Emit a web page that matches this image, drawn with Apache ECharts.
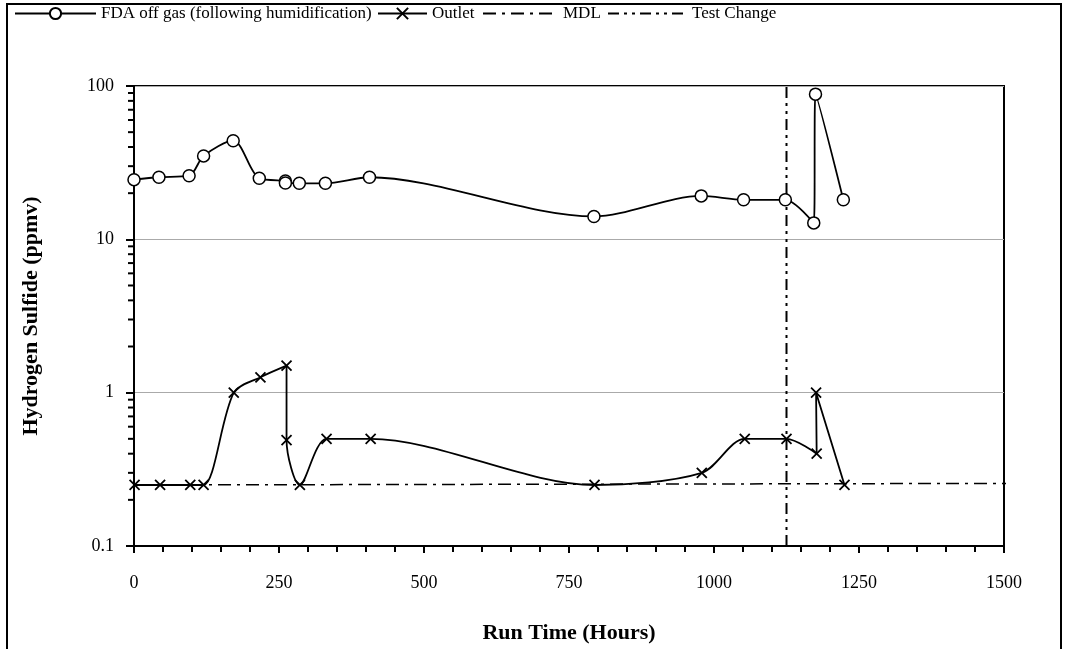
<!DOCTYPE html>
<html>
<head>
<meta charset="utf-8">
<script src="https://cdn.jsdelivr.net/npm/echarts@6/dist/echarts.min.js"></script>
<style>
  html, body { margin: 0; padding: 0; background: #fff; }
  #chart { width: 1068px; height: 649px; }
</style>
</head>
<body>
<div id="chart"></div>
<script>
// Run time (hours) and H2S concentration (ppmv)
const fdaHours   = [0, 43, 95, 120, 171, 216, 261, 261, 285, 330, 406, 793, 978, 1051, 1123, 1172, 1175, 1223];
const fdaValues  = [24.5, 25.4, 26, 35, 44, 25, 24, 23.3, 23.2, 23.2, 25.4, 14.1, 19.2, 18.1, 18.1, 12.8, 88.5, 18.1];
const outletHours  = [1, 45, 97, 120, 172, 218, 263, 263, 286, 332, 408, 794, 979, 1053, 1125, 1177, 1176, 1225];
const outletValues = [0.25, 0.25, 0.25, 0.25, 1.0, 1.26, 1.5, 0.49, 0.25, 0.5, 0.5, 0.25, 0.3, 0.5, 0.5, 0.4, 1.0, 0.25];
const mdlHours   = [0, 1515];
const mdlValues  = [0.25, 0.256];
const testChangeHours  = [1125, 1125];
const testChangeValues = [0.1, 100];
const xTicks = { min: 0, max: 1500, step: 250 };
const yTicks = { min: 0.1, max: 100 };
const yMinorTicks = [0.2, 0.3, 0.4, 0.5, 0.6, 0.7, 0.8, 0.9,
                     2, 3, 4, 5, 6, 7, 8, 9,
                     20, 30, 40, 50, 60, 70, 80, 90];

const NAMES = ['FDA off gas (following humidification)', 'Outlet', 'MDL', 'Test Change'];

const pair = (xs, ys) => xs.map((x, i) => [x, ys[i]]);
const FONT = '"Liberation Serif", "Times New Roman", serif';
const CROSS = 'path://M0,0L10,10M10,0L0,10';

// one legend block per entry so each sample line can have its own length
function legendBlock(name, left, width, hideSymbol) {
  return {
    top: 5, left: left, padding: 0,
    itemWidth: width, itemHeight: 14, itemGap: 0,
    data: [hideSymbol ? { name: name, itemStyle: { opacity: 0 } } : name],
    textStyle: { fontFamily: FONT, fontSize: 17, color: '#000' },
    selectedMode: false
  };
}

const chart = echarts.init(document.getElementById('chart'), null, { renderer: 'canvas' });

chart.setOption({
  backgroundColor: '#fff',
  animation: false,
  textStyle: { fontFamily: FONT, color: '#000' },
  graphic: [{
    type: 'rect',
    shape: { x: 7, y: 4, width: 1054, height: 660 },
    style: { fill: 'none', stroke: '#000', lineWidth: 2 },
    silent: true, z: -1
  }],
  legend: [
    legendBlock(NAMES[0], 14, 81, false),
    legendBlock(NAMES[1], 377, 49, false),
    legendBlock(NAMES[2], 482, 75, true),
    legendBlock(NAMES[3], 607, 79, true)
  ],
  grid: {
    left: 134, right: 64, top: 86, bottom: 103,
    show: true, borderColor: '#000', borderWidth: 2, backgroundColor: 'transparent'
  },
  xAxis: {
    type: 'value',
    min: xTicks.min, max: xTicks.max, interval: xTicks.step,
    axisLine: { lineStyle: { color: '#000', width: 2 } },
    axisTick: { length: 7, lineStyle: { color: '#000', width: 2 } },
    minorTick: { show: true, splitNumber: 5, length: 6, lineStyle: { color: '#000', width: 2 } },
    splitLine: { show: false },
    axisLabel: { fontFamily: FONT, fontSize: 18, color: '#000', margin: 28,
                 formatter: v => String(v) },
    name: 'Run Time (Hours)',
    nameLocation: 'middle', nameGap: 76,
    nameTextStyle: { fontFamily: FONT, fontSize: 22, fontWeight: 'bold', color: '#000' }
  },
  yAxis: {
    type: 'log', logBase: 10,
    min: yTicks.min, max: yTicks.max,
    axisLine: { lineStyle: { color: '#000', width: 2 } },
    axisTick: { length: 8, lineStyle: { color: '#000', width: 2 } },
    splitLine: { show: true, lineStyle: { color: '#aaa', width: 1 } },
    axisLabel: { fontFamily: FONT, fontSize: 18, color: '#000', margin: 20,
                 formatter: v => String(v) },
    name: 'Hydrogen Sulfide (ppmv)',
    nameLocation: 'middle', nameGap: 92, nameRotate: 90,
    nameTextStyle: { fontFamily: FONT, fontSize: 22, fontWeight: 'bold', color: '#000' }
  },
  series: [
    {
      name: NAMES[0],
      type: 'line',
      data: pair(fdaHours, fdaValues),
      smooth: 0.3,
      symbol: 'circle', symbolSize: 12,
      itemStyle: { color: '#fff', borderColor: '#000', borderWidth: 1.5 },
      lineStyle: { color: '#000', width: 1.8 },
      z: 3
    },
    {
      name: NAMES[1],
      type: 'line',
      data: pair(outletHours, outletValues),
      smooth: 0.3,
      symbol: CROSS, symbolSize: 10,
      itemStyle: { color: '#000', borderColor: '#000', borderWidth: 1.8 },
      lineStyle: { color: '#000', width: 1.8 },
      z: 3
    },
    {
      name: NAMES[2],
      type: 'line',
      data: pair(mdlHours, mdlValues),
      clip: false,
      symbol: 'none',
      itemStyle: { color: '#000' },
      lineStyle: { color: '#000', width: 1.5, type: [13, 6, 3, 6] },
      z: 2
    },
    {
      name: NAMES[3],
      type: 'line',
      data: pair(testChangeHours, testChangeValues),
      symbol: 'none',
      itemStyle: { color: '#000' },
      lineStyle: { color: '#000', width: 2, type: [11, 5, 3, 5, 3, 5] },
      z: 2
    },
    {
      // minor ticks on the log axis at 2..9 of each decade
      name: 'yMinor',
      type: 'custom',
      clip: false,
      silent: true,
      data: yMinorTicks.map(v => [xTicks.min, v]),
      renderItem: (params, api) => {
        const p = api.coord([api.value(0), api.value(1)]);
        return {
          type: 'line',
          shape: { x1: p[0] - 6, y1: p[1], x2: p[0], y2: p[1] },
          style: { stroke: '#000', lineWidth: 2 }
        };
      },
      z: 4
    }
  ]
});
</script>
</body>
</html>
